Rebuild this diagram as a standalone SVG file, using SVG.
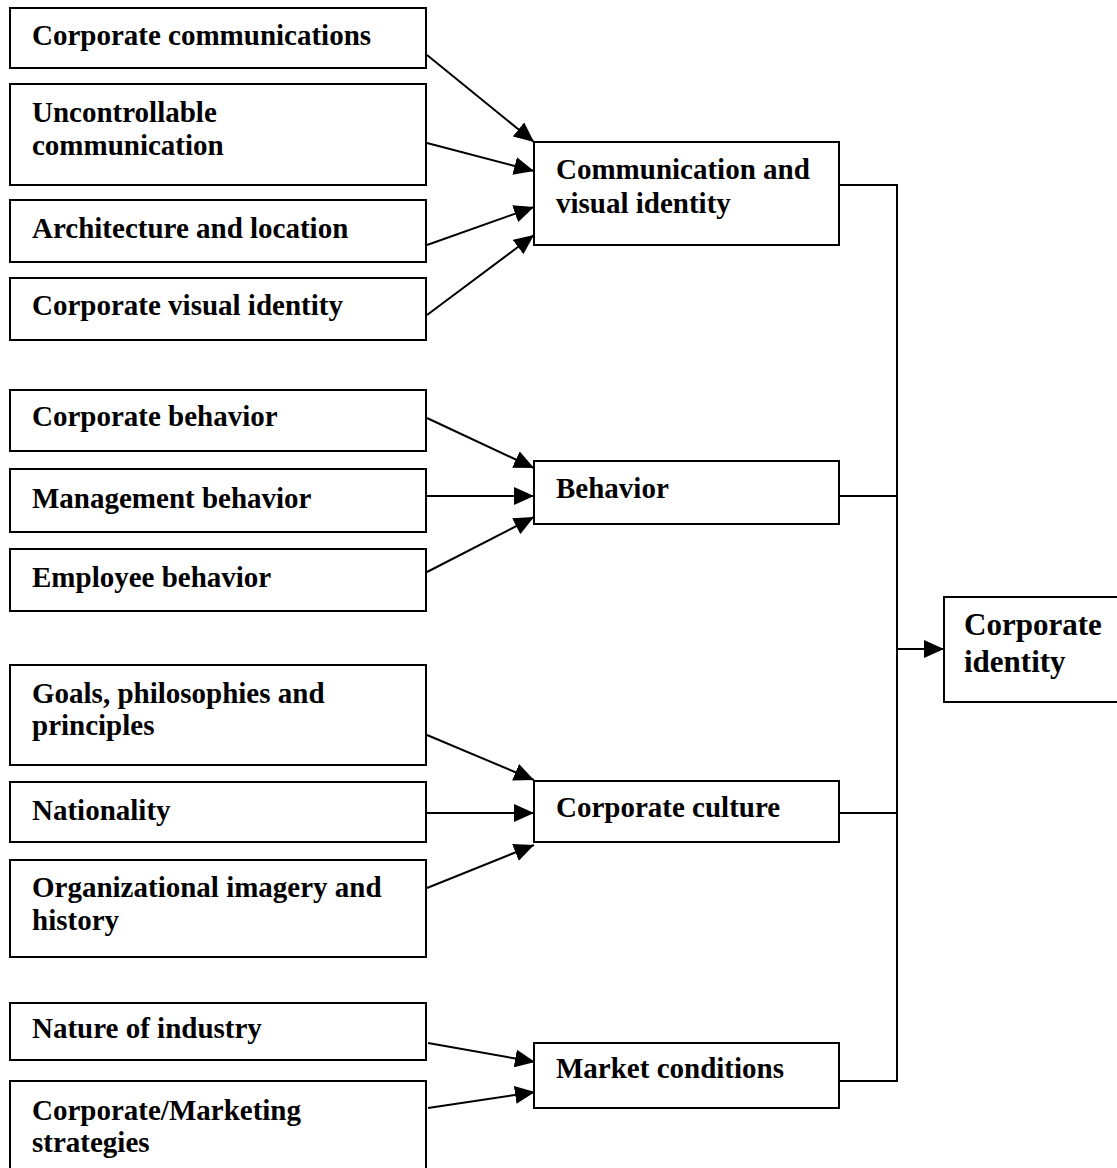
<svg xmlns="http://www.w3.org/2000/svg" width="1117" height="1168" viewBox="0 0 1117 1168">
<defs>
<style>
.box{fill:#fff;stroke:#000;stroke-width:2}
.t{font-family:"Liberation Serif","Times New Roman",serif;font-weight:bold;font-size:29px;fill:#000}
.tl{font-family:"Liberation Serif","Times New Roman",serif;font-weight:bold;font-size:31px;fill:#000}
.c{fill:none;stroke:#000;stroke-width:2}
</style>
<marker id="ah" markerUnits="userSpaceOnUse" markerWidth="20" markerHeight="18" refX="20" refY="9" orient="auto">
<path d="M0,0 L20,9 L0,18 z" fill="#000"/>
</marker>
</defs>
<rect width="1117" height="1168" fill="#fff"/>
<g id="connectors">
<line class="c" x1="427" y1="55" x2="534" y2="142" marker-end="url(#ah)"/>
<line class="c" x1="427" y1="143" x2="534" y2="171" marker-end="url(#ah)"/>
<line class="c" x1="427" y1="245" x2="534" y2="207" marker-end="url(#ah)"/>
<line class="c" x1="427" y1="315" x2="534" y2="235" marker-end="url(#ah)"/>
<line class="c" x1="427" y1="418" x2="534" y2="468" marker-end="url(#ah)"/>
<line class="c" x1="427" y1="496" x2="534" y2="496" marker-end="url(#ah)"/>
<line class="c" x1="427" y1="572" x2="534" y2="517" marker-end="url(#ah)"/>
<line class="c" x1="427" y1="735" x2="534" y2="780" marker-end="url(#ah)"/>
<line class="c" x1="427" y1="813" x2="534" y2="813" marker-end="url(#ah)"/>
<line class="c" x1="427" y1="888" x2="534" y2="845" marker-end="url(#ah)"/>
<line class="c" x1="428" y1="1043" x2="535" y2="1062" marker-end="url(#ah)"/>
<line class="c" x1="428" y1="1108" x2="535" y2="1092" marker-end="url(#ah)"/>
<polyline class="c" points="839,185 897,185 897,1081 839,1081"/>
<line class="c" x1="839" y1="496" x2="897" y2="496"/>
<line class="c" x1="839" y1="813" x2="897" y2="813"/>
<line class="c" x1="897" y1="649" x2="944" y2="649" marker-end="url(#ah)"/>
</g>
<g id="n-corp-comm"><rect class="box" x="10" y="8" width="416" height="60"/><text class="t" x="32" y="45">Corporate communications</text></g>
<g id="n-uncontrollable"><rect class="box" x="10" y="84" width="416" height="101"/><text class="t" x="32" y="122">Uncontrollable</text><text class="t" x="32" y="155">communication</text></g>
<g id="n-architecture"><rect class="box" x="10" y="200" width="416" height="62"/><text class="t" x="32" y="238">Architecture and location</text></g>
<g id="n-cvi"><rect class="box" x="10" y="278" width="416" height="62"/><text class="t" x="32" y="315">Corporate visual identity</text></g>
<g id="n-corp-behavior"><rect class="box" x="10" y="390" width="416" height="61"/><text class="t" x="32" y="426">Corporate behavior</text></g>
<g id="n-mgmt-behavior"><rect class="box" x="10" y="469" width="416" height="63"/><text class="t" x="32" y="508">Management behavior</text></g>
<g id="n-emp-behavior"><rect class="box" x="10" y="549" width="416" height="62"/><text class="t" x="32" y="587">Employee behavior</text></g>
<g id="n-goals"><rect class="box" x="10" y="665" width="416" height="100"/><text class="t" x="32" y="703">Goals, philosophies and</text><text class="t" x="32" y="735">principles</text></g>
<g id="n-nationality"><rect class="box" x="10" y="782" width="416" height="60"/><text class="t" x="32" y="820">Nationality</text></g>
<g id="n-org-imagery"><rect class="box" x="10" y="860" width="416" height="97"/><text class="t" x="32" y="897">Organizational imagery and</text><text class="t" x="32" y="930">history</text></g>
<g id="n-nature"><rect class="box" x="10" y="1003" width="416" height="57"/><text class="t" x="32" y="1038">Nature of industry</text></g>
<g id="n-strategies"><rect class="box" x="10" y="1081" width="416" height="100"/><text class="t" x="32" y="1120">Corporate/Marketing</text><text class="t" x="32" y="1152">strategies</text></g>
<g id="n-comm-visual"><rect class="box" x="534" y="142" width="305" height="103"/><text class="t" x="556" y="179">Communication and</text><text class="t" x="556" y="213">visual identity</text></g>
<g id="n-behavior"><rect class="box" x="534" y="461" width="305" height="63"/><text class="t" x="556" y="498">Behavior</text></g>
<g id="n-culture"><rect class="box" x="534" y="781" width="305" height="61"/><text class="t" x="556" y="817">Corporate culture</text></g>
<g id="n-market"><rect class="box" x="534" y="1043" width="305" height="65"/><text class="t" x="556" y="1078">Market conditions</text></g>
<g id="n-corp-identity"><rect class="box" x="944" y="597" width="180" height="105"/><text class="tl" x="964" y="635">Corporate</text><text class="tl" x="964" y="672">identity</text></g>
</svg>
